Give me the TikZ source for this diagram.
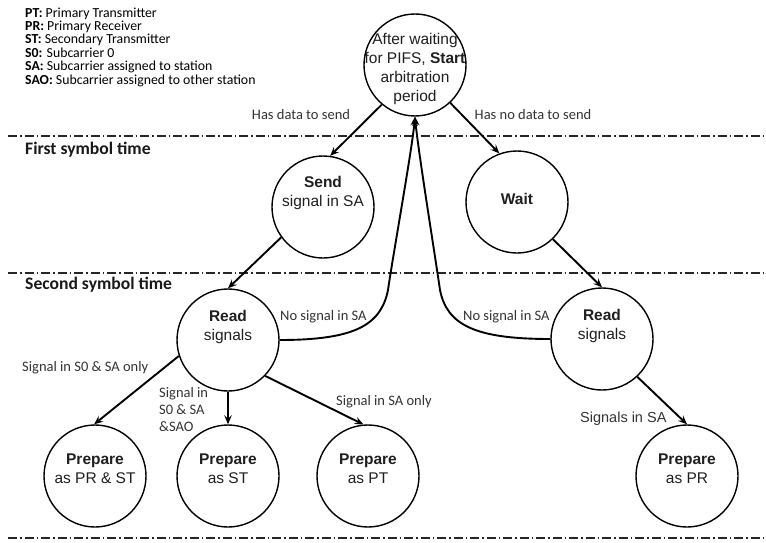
\documentclass[tikz,border=0pt]{standalone}
\usepackage{fontspec}
\setmainfont{Liberation Sans}
\newfontfamily\calfont{Carlito}
\usetikzlibrary{arrows.meta}
\tikzset{
  circ/.style={circle,draw=black,line width=1.4pt,minimum size=102pt,inner sep=0pt},
  ctext/.style={inner sep=0pt,align=center,text=black!88,font=\fontsize{15.5}{19}\selectfont},
  arr/.style={line width=1.9pt,-{Stealth[length=9pt,width=7.5pt,inset=3.5pt]}},
  sep/.style={line width=1.2pt,draw=black!85,dash pattern=on 9pt off 3pt on 1.5pt off 3pt},
  elab/.style={inner sep=0pt,text=black!80,font=\calfont\fontsize{14.5}{17}\selectfont,align=left},
  alab/.style={inner sep=0pt,text=black!80,font=\fontsize{14.5}{17}\selectfont},
  head/.style={inner sep=0pt,text=black!90,font=\calfont\bfseries\fontsize{17.6}{19}\selectfont},
  legend/.style={inner sep=0pt,align=left,text=black,font=\calfont\fontsize{13.8}{13.4}\selectfont}
}
\begin{document}
\begin{tikzpicture}[x=1pt,y=-1pt]
\useasboundingbox (0,0) rectangle (766,543);
% separators
\coordinate (s1a) at (8,136); \coordinate (s1b) at (766,136);
\coordinate (s2a) at (8,273); \coordinate (s2b) at (766,273);
\coordinate (s3a) at (8,538); \coordinate (s3b) at (766,538);
\draw[sep] (s1a) -- (s1b);
\draw[sep] (s2a) -- (s2b);
\draw[sep] (s3a) -- (s3b);
% legend and headings
\node[legend,anchor=west] (leg) at (25,47) {\textbf{PT:} Primary Transmitter\\\textbf{PR:} Primary Receiver\\\textbf{ST:} Secondary Transmitter\\\textbf{S0:} Subcarrier 0\\\textbf{SA:} Subcarrier assigned to station\\\textbf{SAO:} Subcarrier assigned to other station};
\node[head,anchor=west] (h1) at (25,150) {First symbol time};
\node[head,anchor=west] (h2) at (25,285) {Second symbol time};
% circles
\node[circ] (top) at (415,65) {};
\node[ctext] (topt) at (415,69) {After waiting\\for PIFS, \textbf{Start}\\arbitration\\period};
\node[circ] (send) at (323,207) {};
\node[ctext] (sendt) at (323,193) {\textbf{Send}\\signal in SA};
\node[circ] (wait) at (517,202) {};
\node[ctext] (waitt) at (517,199) {\textbf{Wait}};
\node[circ] (readL) at (228,340) {};
\node[ctext] (readLt) at (228,327) {\textbf{Read}\\signals};
\node[circ] (readR) at (602,339) {};
\node[ctext] (readRt) at (602,326) {\textbf{Read}\\signals};
\node[circ] (prst) at (95,476) {};
\node[ctext] (prstt) at (95,469) {\textbf{Prepare}\\as PR \& ST};
\node[circ] (pst) at (228,476) {};
\node[ctext] (pstt) at (228,469) {\textbf{Prepare}\\as ST};
\node[circ] (ppt) at (368,476) {};
\node[ctext] (pptt) at (368,469) {\textbf{Prepare}\\as PT};
\node[circ] (ppr) at (687,476) {};
\node[ctext] (pprt) at (687,469) {\textbf{Prepare}\\as PR};
% arrows
\draw[arr] (top.-130) -- (send.82);
\draw[arr] (top.-47) -- (wait.110);
\draw[arr] (send.-144) -- (readL.90);
\draw[arr] (wait.-46) -- (readR.90);
\draw[arr] (readL.-162) -- (prst.91);
\draw[arr] (readL.-90) -- (pst.90);
\draw[arr] (readL.-44) -- (ppt.95);
\draw[arr] (readR.-47) -- (ppr.90);
\draw[arr] (readL.east) .. controls (355,340) and (381,325) .. (388,290) .. controls (393,255) and (412,150) .. (top.south);
\draw[arr] (readR.west) .. controls (475,339) and (447,325) .. (440,290) .. controls (435,255) and (418,150) .. (top.south);
% edge labels
\node[elab] (l1) at (301,115) {Has data to send};
\node[elab] (l2) at (533,115) {Has no data to send};
\node[elab,anchor=west] (l3) at (280,317) {No signal in SA};
\node[elab,anchor=west] (l4) at (463,317) {No signal in SA};
\node[elab,anchor=west] (l5) at (22,368) {Signal in S0 \& SA only};
\node[elab,anchor=west] (l6) at (159,410) {Signal in\\S0 \& SA\\\&SAO};
\node[elab,anchor=west] (l7) at (336,402) {Signal in SA only};
\node[alab,anchor=west] (l8) at (580,419) {Signals in SA};
\end{tikzpicture}
\end{document}
